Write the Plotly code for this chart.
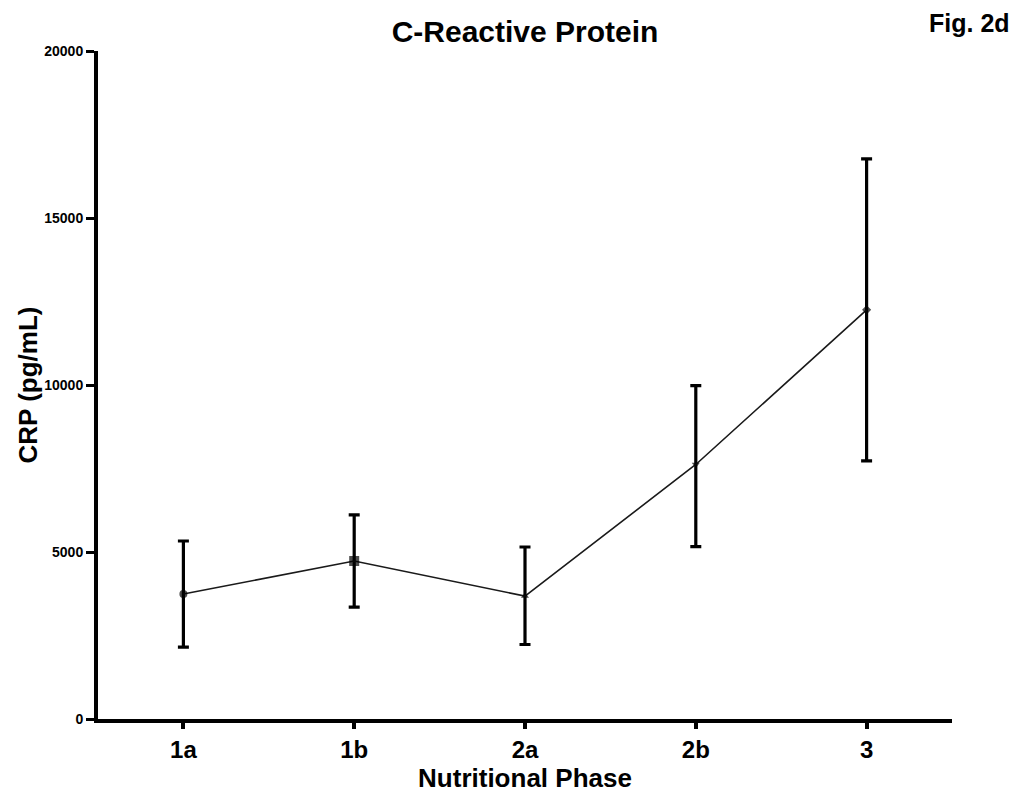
import plotly.graph_objects as go

# CRP by nutritional phase: mean with error bars
phases = ["1a", "1b", "2a", "2b", "3"]
crp_mean = [3740, 4730, 3680, 7620, 12250]
crp_err_plus = [1590, 1380, 1470, 2360, 4520]
crp_err_minus = [1590, 1380, 1450, 2460, 4520]
marker_symbols = ["circle", "square", "triangle-up", "triangle-down", "diamond"]
marker_sizes = [8, 10, 7, 7, 7]

y_ticks = [0, 5000, 10000, 15000, 20000]

FONT = "Arial, Liberation Sans, Helvetica, sans-serif"

fig = go.Figure()

fig.add_trace(go.Scatter(
    x=list(range(len(phases))),
    y=crp_mean,
    mode="lines+markers",
    line=dict(color="#1a1a1a", width=1.6),
    marker=dict(symbol=marker_symbols, size=marker_sizes, color="black",
                line=dict(width=0)),
    error_y=dict(type="data", symmetric=False,
                 array=crp_err_plus, arrayminus=crp_err_minus,
                 color="black", thickness=3.2, width=5.5),
    showlegend=False,
))

fig.update_layout(
    width=1016, height=797,
    margin=dict(l=98, r=64, t=51, b=78),
    paper_bgcolor="white", plot_bgcolor="white",
    font=dict(family=FONT, color="black"),
    title=dict(text="<b>C-Reactive Protein</b>", x=0.5, xref="paper",
               y=1 - 31 / 797, yref="container", yanchor="middle",
               font=dict(size=30, family=FONT, color="black")),
    xaxis=dict(
        range=[-0.5, 4.5], automargin=False,
        tickvals=list(range(len(phases))), ticktext=phases,
        tickfont=dict(size=24, family=FONT, weight="bold"),
        showline=True, linecolor="black", linewidth=4,
        ticks="outside", ticklen=6, tickwidth=4, tickcolor="black",
        showgrid=False, zeroline=False,
        title=dict(text="<b>Nutritional Phase</b>", standoff=8,
                   font=dict(size=26, family=FONT)),
    ),
    yaxis=dict(
        range=[0, 20000], automargin=False,
        tickvals=y_ticks, ticktext=[str(v) for v in y_ticks],
        tickfont=dict(size=14, family=FONT, weight="bold"),
        showline=True, linecolor="black", linewidth=4,
        ticks="outside", ticklen=8, tickwidth=3, tickcolor="black",
        showgrid=False, zeroline=False,
        title=dict(text="<b>CRP (pg/mL)</b>", standoff=0,
                   font=dict(size=26, family=FONT)),
    ),
    annotations=[dict(
        text="<b>Fig. 2d</b>", xref="paper", yref="paper",
        x=1.07, y=1.066, xanchor="right", yanchor="top", showarrow=False,
        font=dict(size=25, family=FONT, color="black"),
    )],
)

fig.write_html("out.html")
